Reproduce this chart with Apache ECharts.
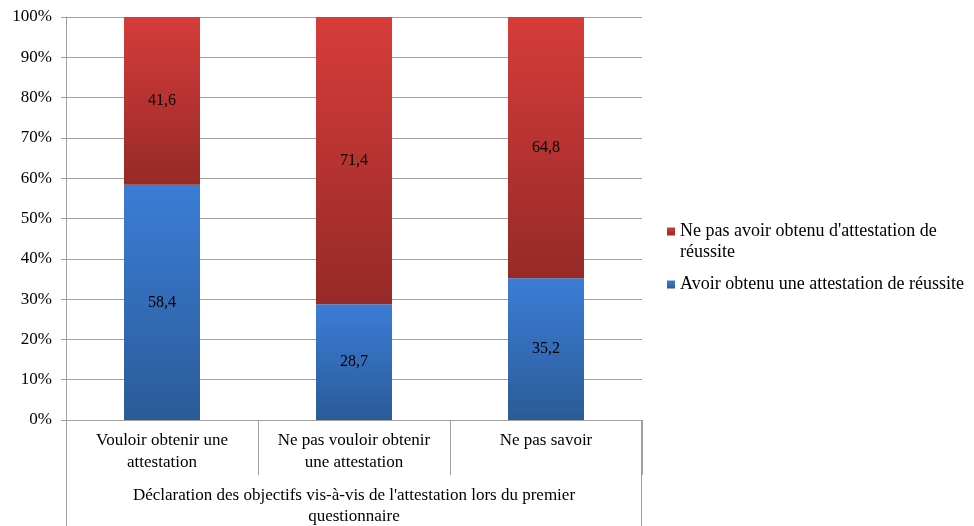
<!DOCTYPE html>
<html>
<head>
<meta charset="utf-8">
<script src="https://cdn.jsdelivr.net/npm/echarts@6/dist/echarts.min.js"></script>
<style>html,body{margin:0;padding:0;background:#fff;}#c{width:974px;height:526px;}</style>
</head>
<body>
<div id="c"></div>
<script>
var categories = ['Vouloir obtenir une\nattestation', 'Ne pas vouloir obtenir\nune attestation', 'Ne pas savoir'];
var obtained = [58.4, 28.7, 35.2];
var notObtained = [41.6, 71.4, 64.8];
var seriesNames = ["Avoir obtenu une attestation de réussite", "Ne pas avoir obtenu d'attestation de réussite"];
var axisTitle = "Déclaration des objectifs vis-à-vis de l'attestation lors du premier\nquestionnaire";

var FONT = '"Liberation Serif", "Times New Roman", serif';
function grad(top, bottom) {
  return new echarts.graphic.LinearGradient(0, 0, 0, 1, [{offset: 0, color: top}, {offset: 1, color: bottom}]);
}
var chart = echarts.init(document.getElementById('c'));
chart.setOption({
  animation: false,
  textStyle: {fontFamily: FONT},
  grid: {left: 66, right: 332, top: 17, bottom: 106, outerBoundsMode: 'none', containLabel: false},
  legend: {
    orient: 'vertical', left: 667, top: 200, padding: 0,
    data: [seriesNames[1], seriesNames[0]],
    icon: 'rect', itemWidth: 8, itemHeight: 8, itemGap: 11,
    textStyle: {fontFamily: FONT, fontSize: 18, color: '#000', lineHeight: 21},
    formatter: function (n) { return n === seriesNames[1] ? "\nNe pas avoir obtenu d'attestation de\nréussite" : n; }
  },
  xAxis: {
    type: 'category', data: categories,
    axisLine: {lineStyle: {color: '#a0a0a0', width: 1}},
    axisTick: {show: true, interval: 0, length: 55, lineStyle: {color: '#a0a0a0'}},
    axisLabel: {interval: 0, hideOverlap: false, color: '#000', fontFamily: FONT, fontSize: 17, lineHeight: 22, margin: 10},
    name: axisTitle, nameLocation: 'middle', nameGap: 65,
    nameTextStyle: {color: '#000', fontFamily: FONT, fontSize: 17, lineHeight: 21}
  },
  yAxis: {
    type: 'value', min: 0, max: 100, interval: 10,
    axisLine: {show: true, lineStyle: {color: '#a0a0a0'}},
    axisTick: {show: true, length: 5, lineStyle: {color: '#a0a0a0'}},
    splitLine: {lineStyle: {color: '#a0a0a0'}},
    axisLabel: {formatter: '{value}%', color: '#000', fontFamily: FONT, fontSize: 17, margin: 14}
  },
  graphic: [
    {type: 'line', shape: {x1: 66.5, y1: 420, x2: 66.5, y2: 526}, style: {stroke: '#a0a0a0', lineWidth: 1}},
    {type: 'line', shape: {x1: 641.5, y1: 420, x2: 641.5, y2: 526}, style: {stroke: '#a0a0a0', lineWidth: 1}}
  ],
  series: [
    {
      name: seriesNames[0], type: 'bar', stack: 'a', data: obtained, barWidth: 76,
      itemStyle: {color: grad('#3b7dd6', '#2b5b98')},
      label: {show: true, position: 'inside', color: '#000', fontFamily: FONT, fontSize: 16,
        formatter: function (p) { return String(p.value).replace('.', ','); }}
    },
    {
      name: seriesNames[1], type: 'bar', stack: 'a', data: notObtained, barWidth: 76,
      itemStyle: {color: grad('#d63c3a', '#962a27')},
      label: {show: true, position: 'inside', color: '#000', fontFamily: FONT, fontSize: 16,
        formatter: function (p) { return String(p.value).replace('.', ','); }}
    }
  ]
});
</script>
</body>
</html>
